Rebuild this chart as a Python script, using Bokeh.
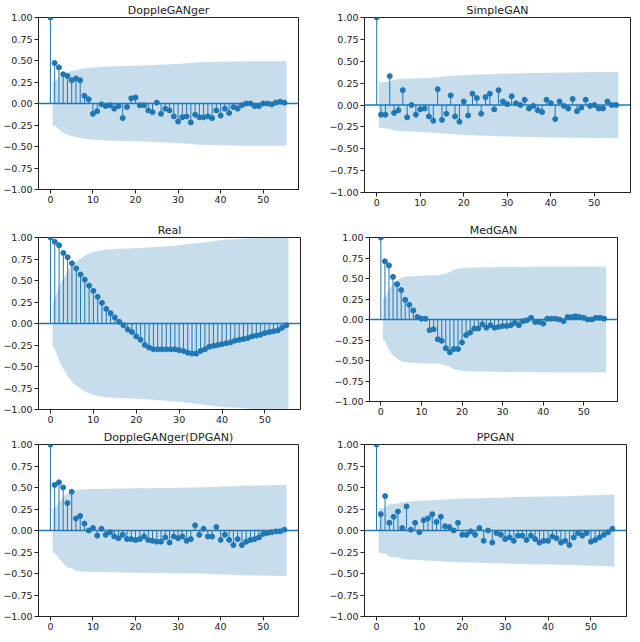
from bokeh.plotting import figure
from bokeh.layouts import column, row
from bokeh.models import FixedTicker, Span, Range1d
from bokeh.embed import file_html
from bokeh.resources import INLINE

lags = list(range(56))

acf_dopple = [1.0, 0.47, 0.42, 0.34, 0.32, 0.27, 0.29, 0.27, 0.09, 0.05, -0.12, -0.09, -0.01, -0.03,
              -0.02, -0.06, -0.03, -0.17, -0.04, 0.06, 0.07, -0.02, -0.02, -0.08, -0.10, 0.01, -0.12,
              -0.06, -0.08, -0.15, -0.21, -0.16, -0.15, -0.22, -0.13, -0.16, -0.16, -0.15, -0.17,
              -0.08, -0.14, -0.06, -0.11, -0.04, -0.06, -0.02, 0.00, 0.00, -0.03, -0.03, 0.00, 0.00,
              -0.01, 0.01, 0.02, 0.01]
acf_simple = [1.0, -0.11, -0.11, 0.33, -0.09, -0.06, 0.17, -0.14, 0.00, -0.11, -0.05, -0.04, -0.13,
              -0.18, 0.18, -0.17, -0.10, 0.11, -0.13, -0.19, 0.04, -0.12, 0.13, 0.08, -0.10, 0.09,
              0.13, -0.05, 0.17, 0.04, 0.01, 0.10, 0.02, 0.00, 0.06, -0.04, -0.01, -0.06, -0.08, 0.06,
              0.02, -0.16, 0.04, -0.01, -0.04, 0.07, -0.07, -0.03, 0.06, -0.01, 0.00, -0.04, -0.04,
              0.04, 0.00, 0.00]
acf_real = [1.0, 0.95, 0.91, 0.82, 0.77, 0.70, 0.64, 0.57, 0.51, 0.44, 0.38, 0.31, 0.24, 0.17, 0.12,
            0.07, 0.02, -0.02, -0.07, -0.10, -0.15, -0.19, -0.25, -0.28, -0.30, -0.30, -0.30, -0.30,
            -0.30, -0.30, -0.31, -0.32, -0.34, -0.35, -0.35, -0.32, -0.30, -0.27, -0.26, -0.25,
            -0.24, -0.23, -0.22, -0.20, -0.19, -0.18, -0.17, -0.15, -0.14, -0.13, -0.11, -0.10,
            -0.09, -0.08, -0.05, -0.02]
acf_med = [1.0, 0.71, 0.66, 0.52, 0.43, 0.36, 0.24, 0.18, 0.11, 0.03, 0.01, 0.01, -0.13, -0.12,
           -0.24, -0.26, -0.35, -0.40, -0.36, -0.36, -0.28, -0.19, -0.16, -0.11, -0.11, -0.06,
           -0.10, -0.07, -0.10, -0.09, -0.08, -0.08, -0.07, -0.04, -0.07, -0.02, -0.01, 0.02, -0.03,
           -0.03, -0.05, 0.01, 0.01, 0.01, 0.00, -0.02, 0.03, 0.03, 0.04, 0.03, 0.02, 0.00, 0.00,
           0.02, 0.02, 0.01]
acf_dpgan = [1.0, 0.53, 0.56, 0.50, 0.32, 0.45, 0.14, 0.17, 0.08, 0.00, 0.03, -0.06, 0.02, -0.05,
             -0.02, -0.07, -0.09, -0.05, -0.10, -0.10, -0.11, -0.10, -0.07, -0.11, -0.12, -0.13,
             -0.13, -0.08, -0.14, -0.07, -0.09, -0.07, -0.12, -0.10, 0.06, -0.05, 0.02, -0.07,
             -0.07, 0.04, -0.11, -0.05, -0.11, -0.17, -0.10, -0.17, -0.13, -0.11, -0.10, -0.08,
             -0.04, -0.03, -0.02, -0.01, -0.01, 0.01]
acf_ppgan = [1.0, 0.19, 0.40, 0.09, 0.16, 0.22, 0.03, 0.28, 0.01, 0.09, -0.02, 0.12, 0.14, 0.19,
             0.10, 0.16, 0.05, 0.04, 0.00, 0.09, -0.05, -0.05, -0.01, -0.05, 0.03, -0.12, 0.00,
             -0.14, -0.03, -0.05, -0.10, -0.08, -0.12, -0.06, -0.06, -0.11, -0.06, -0.10, -0.14,
             -0.12, -0.12, -0.07, -0.09, -0.14, -0.12, -0.17, -0.08, -0.03, -0.06, -0.03, -0.13,
             -0.11, -0.08, -0.05, -0.02, 0.02]

# confidence band outlines (lag, half-width)
band_dopple_x = [0.5, 1, 2, 3, 4, 5, 6, 7, 8, 10, 13, 20, 30, 35, 45, 55.5]
band_dopple_w = [0.26, 0.26, 0.30, 0.34, 0.36, 0.38, 0.39, 0.40, 0.41, 0.42, 0.43, 0.44, 0.46, 0.48, 0.49, 0.49]
band_simple_x = [0.5, 3, 4, 6, 12, 14, 19, 30, 40, 55.5]
band_simple_w = [0.26, 0.27, 0.29, 0.30, 0.31, 0.32, 0.34, 0.36, 0.37, 0.38]
band_real_x = [0.5, 1, 2, 3, 4, 5, 6, 8, 10, 13, 17, 22, 28, 35, 40, 50, 55.5]
band_real_w = [0.26, 0.30, 0.43, 0.53, 0.61, 0.68, 0.72, 0.79, 0.83, 0.86, 0.87, 0.88, 0.90, 0.94, 0.97, 1.00, 1.02]
band_med_x = [0.5, 1, 2, 3, 4, 5, 6, 8, 14, 16, 17, 18, 19, 21, 30, 55.5]
band_med_w = [0.26, 0.26, 0.37, 0.44, 0.48, 0.51, 0.52, 0.53, 0.54, 0.56, 0.58, 0.61, 0.62, 0.63, 0.64, 0.645]
band_dpgan_x = [0.5, 1, 2, 3, 4, 5, 6, 8, 20, 35, 45, 55.5]
band_dpgan_w = [0.26, 0.26, 0.325, 0.385, 0.43, 0.44, 0.47, 0.48, 0.49, 0.50, 0.52, 0.53]
band_ppgan_x = [0.5, 1, 2, 3, 5, 6, 8, 14, 17, 30, 45, 55.5]
band_ppgan_w = [0.26, 0.26, 0.27, 0.305, 0.315, 0.33, 0.34, 0.355, 0.365, 0.385, 0.40, 0.42]

titles = ["DoppleGANger", "SimpleGAN", "Real", "MedGAN", "DoppleGANger(DPGAN)", "PPGAN"]
y_ticks = [-1.0, -0.75, -0.5, -0.25, 0.0, 0.25, 0.5, 0.75, 1.0]
x_ticks = [0, 10, 20, 30, 40, 50]

C0 = "#1f77b4"
FONT = "DejaVu Sans"


def make(title, acf, bx, bw, fw, fh, bl, bt, br, bb):
    p = figure(frame_width=fw, frame_height=fh, min_border_left=bl, min_border_top=bt,
               min_border_right=br, min_border_bottom=bb, output_backend="svg",
               toolbar_location=None, x_range=Range1d(-2.8, 58.3), y_range=Range1d(-1.0, 1.0))
    p.title.text = title
    p.title.align = "center"
    p.title.text_font = FONT
    p.title.text_font_size = "11px"
    p.title.text_font_style = "normal"
    p.title.text_color = "#222222"
    p.title.standoff = 2
    p.grid.visible = False
    p.outline_line_color = "#222222"
    p.outline_line_width = 1
    p.background_fill_color = "white"
    p.border_fill_color = "white"
    for ax in (p.xaxis[0], p.yaxis[0]):
        ax.axis_line_color = "#222222"
        ax.major_tick_line_color = "#222222"
        ax.major_tick_out = 4
        ax.major_tick_in = 0
        ax.minor_tick_line_color = None
        ax.major_label_text_font = FONT
        ax.major_label_text_font_size = "9.5px"
        ax.major_label_text_color = "#222222"
        ax.major_label_standoff = 2
    p.xaxis.ticker = FixedTicker(ticks=x_ticks)
    p.yaxis.ticker = FixedTicker(ticks=y_ticks)
    p.yaxis.major_label_overrides = {t: ("%.2f" % t).replace("-", "\u2212") for t in y_ticks}
    p.varea(x=bx, y1=[-w for w in bw], y2=bw, fill_color=C0, fill_alpha=0.25)
    p.add_layout(Span(location=0, dimension="width", line_color=C0, line_width=1.5))
    p.segment(x0=lags, y0=[0] * len(acf), x1=lags, y1=acf, line_color=C0, line_width=1.0)
    p.scatter(x=lags, y=acf, size=5, fill_color=C0, line_color=C0)
    return p


p1 = make(titles[0], acf_dopple, band_dopple_x, band_dopple_w, 260, 172, 34, 13, 28, 21)
p2 = make(titles[1], acf_simple, band_simple_x, band_simple_w, 266, 175, 34, 14, 2, 17)
p3 = make(titles[2], acf_real, band_real_x, band_real_w, 262, 172, 34, 22, 31, 20)
p4 = make(titles[3], acf_med, band_med_x, band_med_w, 248, 164, 35, 27, 14, 23)
p5 = make(titles[4], acf_dpgan, band_dpgan_x, band_dpgan_w, 260, 172, 34, 20, 28, 15)
p6 = make(titles[5], acf_ppgan, band_ppgan_x, band_ppgan_w, 262, 172, 38, 20, 2, 15)

layout = column(row(p1, p2, spacing=0), row(p3, p4, spacing=0), row(p5, p6, spacing=0), spacing=0)

open("out.html", "w").write(file_html(layout, INLINE))
